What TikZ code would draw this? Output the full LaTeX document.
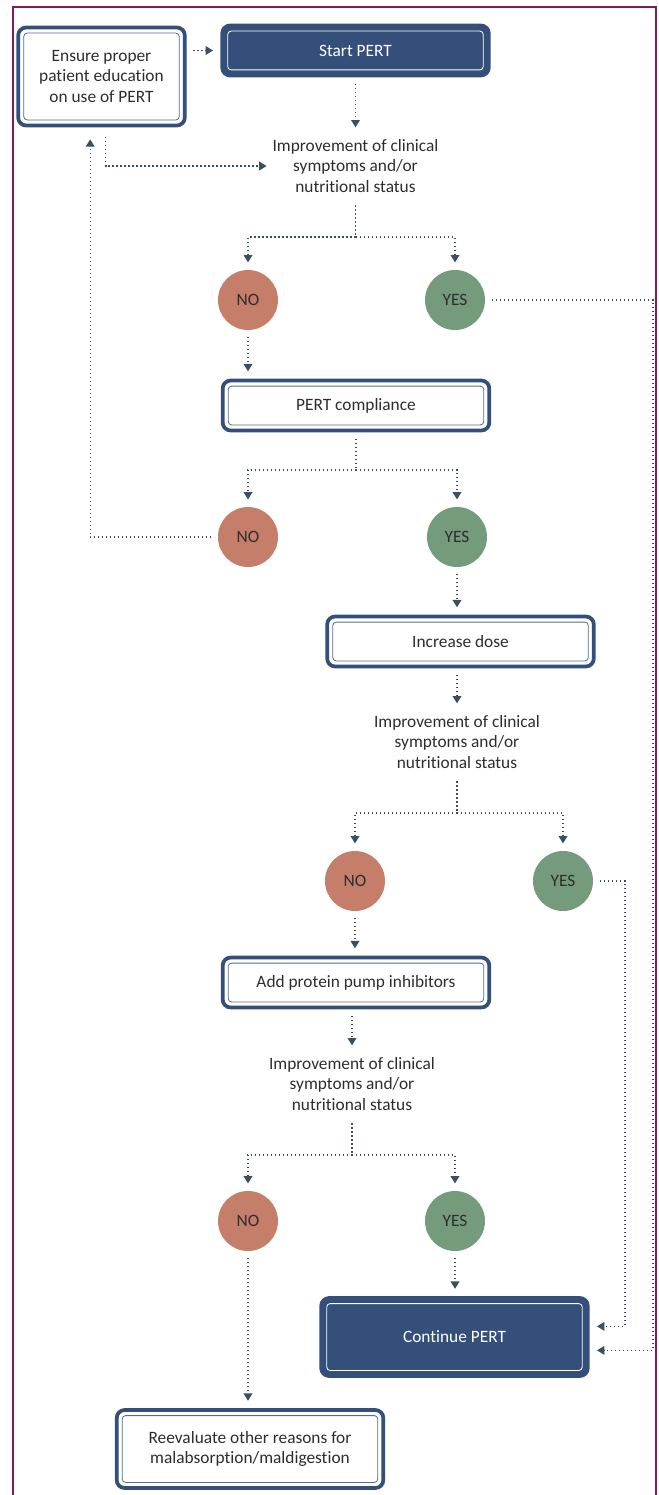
\documentclass[tikz,border=0pt]{standalone}
\usepackage{fontspec}
\setmainfont{Carlito}[Ligatures=NoCommon]
\usetikzlibrary{arrows.meta}

\definecolor{pertblue}{RGB}{52,80,122}
\definecolor{innerblue}{RGB}{84,108,148}
\definecolor{nocol}{RGB}{196,126,106}
\definecolor{yescol}{RGB}{116,155,124}
\definecolor{linkcol}{RGB}{58,80,96}
\definecolor{framecol}{RGB}{128,26,88}
\definecolor{txtcol}{RGB}{45,45,45}

\begin{document}
\begin{tikzpicture}[
                x=0.75pt,
                y=-0.75pt,
                font=\fontsize{13}{15.4}\selectfont,
                every node/.style={text=txtcol},
                box/.style={
                    draw=pertblue,
                    line width=2.8pt,
                    rounded corners=6pt,
                    fill=white,
                    minimum width=200pt,
                    minimum height=37.5pt,
                    inner sep=0pt,
                    align=center,
                    path picture={
                        \draw[#1, line width=0.6pt, rounded corners=2.5pt]
                        ([shift={(4.2pt,-4.2pt)}]path picture bounding box.north west)
                        rectangle
                        ([shift={(-4.2pt,4.2pt)}]path picture bounding box.south east);
                    }
                },
                box/.default=innerblue,
                darkbox/.style={
                    box=white,
                    fill=pertblue,
                    text=white
                },
                query/.style={
                    align=center
                },
                bubble/.style={
                    circle,
                    minimum size=45pt,
                    inner sep=0pt
                },
                nobub/.style={bubble, fill=nocol},
                yesbub/.style={bubble, fill=yescol},
                link/.style={
                    draw=linkcol,
                    dotted,
                    line width=1pt
                },
                flow/.style={
                    link,
                    -{Triangle[width=6.5pt,length=5.5pt]},
                    shorten >=5.5pt
                },
                gap/.style={shorten <=5pt}
            ]

        \useasboundingbox (0,0) rectangle (658,1495);

        % frame
        \draw[framecol, line width=1.5pt] (13,1495) |- (656,7) -- (656,1495);

        % first round
        \node[box, minimum width=125pt, minimum height=73.5pt] (educ)
            at (101.5,76.5) {Ensure proper\\patient education\\on use of PERT};
        \node[darkbox] (start) at (355.5,50.5) {Start PERT};
        \node[query] (imp1) at (355.5,166) {Improvement of clinical\\symptoms and/or\\nutritional status};
        \coordinate (split1) at (355.5,237);
        \node[nobub] (no1) at (248,300) {NO};
        \node[yesbub] (yes1) at (455,300) {YES};

        % compliance
        \node[box] (compl) at (356,405.5) {PERT compliance};
        \coordinate (split2) at (356,470);
        \node[nobub] (no2) at (248,537) {NO};
        \node[yesbub] (yes2) at (457,537) {YES};

        % second round
        \node[box] (dose) at (460.5,641.5) {Increase dose};
        \node[query] (imp2) at (457,742) {Improvement of clinical\\symptoms and/or\\nutritional status};
        \coordinate (split3) at (457,813);
        \node[nobub] (no3) at (355,881) {NO};
        \node[yesbub] (yes3) at (563,881) {YES};

        % third round
        \node[box] (ppi) at (356,982.5) {Add protein pump inhibitors};
        \node[query] (imp3) at (352,1084) {Improvement of clinical\\symptoms and/or\\nutritional status};
        \coordinate (split4) at (352,1155);
        \node[nobub] (no4) at (248,1221) {NO};
        \node[yesbub] (yes4) at (455,1221) {YES};

        % outcomes
        \node[darkbox, minimum height=58.5pt] (cont) at (454.5,1337) {Continue PERT};
        \node[box, minimum height=58.5pt] (reeval) at (250,1449)
            {Reevaluate other reasons for\\malabsorption/maldigestion};

        \coordinate (railA) at (653,300);
        \coordinate (railB) at (625,881);

        % connectors
        \draw[flow, gap] (educ.east |- start) -- (start);
        \draw[flow, gap] (start) -- (imp1);
        \draw[flow, shorten <=7pt, shorten >=1pt] ([xshift=3pt]educ.south) |- (imp1.west);
        \draw[link, shorten <=6pt] (imp1) -- (split1);
        \draw[flow] (split1) -| (no1);
        \draw[flow] (split1) -| (yes1);
        \draw[flow, gap] (no1) -- (no1 |- compl.north);
        \draw[flow, gap] (yes1) -- (railA) |- ([yshift=-10pt]cont.east);

        \draw[link, gap] (compl) -- (split2);
        \draw[flow] (split2) -| (no2);
        \draw[flow] (split2) -| (yes2);
        \draw[flow, gap, shorten >=9pt] (no2) -| ([xshift=-8.5pt]educ.south);
        \draw[flow, gap] (yes2) -- (yes2 |- dose.north);

        \draw[flow, gap] (imp2 |- dose.south) -- (imp2);
        \draw[link, shorten <=6pt] (imp2) -- (split3);
        \draw[flow] (split3) -| (no3);
        \draw[flow] (split3) -| (yes3);
        \draw[flow, gap] (no3) -- (no3 |- ppi.north);
        \draw[flow, gap] (yes3) -- (railB) |- ([yshift=8pt]cont.east);

        \draw[flow, gap] (imp3 |- ppi.south) -- (imp3);
        \draw[link, shorten <=6pt] (imp3) -- (split4);
        \draw[flow] (split4) -| (no4);
        \draw[flow] (split4) -| (yes4);
        \draw[flow, gap] (yes4) -- (yes4 |- cont.north);
        \draw[flow, gap] (no4) -- (no4 |- reeval.north);

            \end{tikzpicture}
\end{document}
